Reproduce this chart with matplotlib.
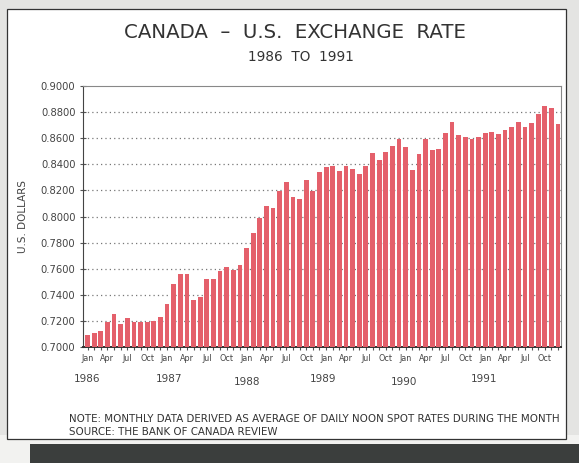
import matplotlib.pyplot as plt
from matplotlib.patches import Rectangle
import numpy as np

# monthly average CAD -> USD, Jan 1986 .. Dec 1991
rate_1986 = [0.7095, 0.7110, 0.7123, 0.7190, 0.7256, 0.7180, 0.7225, 0.7190, 0.7190, 0.7190, 0.7200, 0.7230]
rate_1987 = [0.7333, 0.7480, 0.7563, 0.7563, 0.7363, 0.7380, 0.7520, 0.7520, 0.7586, 0.7614, 0.7588, 0.7627]
rate_1988 = [0.7760, 0.7870, 0.7990, 0.8079, 0.8066, 0.8194, 0.8263, 0.8151, 0.8136, 0.8279, 0.8194, 0.8343]
rate_1989 = [0.8381, 0.8386, 0.8348, 0.8389, 0.8363, 0.8325, 0.8389, 0.8483, 0.8432, 0.8497, 0.8537, 0.8597]
rate_1990 = [0.8533, 0.8357, 0.8478, 0.8595, 0.8513, 0.8520, 0.8638, 0.8728, 0.8625, 0.8613, 0.8595, 0.8608]
rate_1991 = [0.8638, 0.8650, 0.8633, 0.8663, 0.8683, 0.8728, 0.8688, 0.8720, 0.8783, 0.8845, 0.8828, 0.8708]
years = ['1986', '1987', '1988', '1989', '1990', '1991']
month_labels = ['Jan', 'Apr', 'Jul', 'Oct']

rates = np.array(rate_1986 + rate_1987 + rate_1988 + rate_1989 + rate_1990 + rate_1991)
idx = np.arange(len(rates))

fig = plt.figure(figsize=(5.79, 4.63), dpi=100, facecolor='#e4e4e2')

# paper card and dark strip under it (behind the axes)
fig.patches.append(Rectangle((0.0, 0.0), 1.0, 0.06, transform=fig.transFigure,
                             facecolor='#f2f2f0', edgecolor='none', zorder=-3))
fig.patches.append(Rectangle((0.052, 0.0), 0.948, 0.04, transform=fig.transFigure,
                             facecolor='#3b3e3d', edgecolor='none', zorder=-2))
fig.patches.append(Rectangle((0.012, 0.052), 0.965, 0.928, transform=fig.transFigure,
                             facecolor='white', edgecolor='#333333', lw=0.9, zorder=-1))

ax = fig.add_axes([0.1434, 0.2505, 0.8256, 0.5637])
ax.set_facecolor('white')
ax.bar(idx, rates - 0.7, bottom=0.7, width=0.72, color='#e4606b', zorder=3)

ax.set_ylim(0.7, 0.9)
ax.set_xlim(-0.68, 71.45)
yt = np.arange(0.70, 0.9001, 0.02)
ax.set_yticks(yt)
ax.set_yticklabels(['%.4f' % v for v in yt], fontsize=7.2, color='#444444')
for v in yt[1:-1]:
    ax.axhline(v, color='#777777', lw=0.9, ls=(0, (1, 2.5)), zorder=1)

ax.set_xticks(idx, minor=True)
ax.set_xticks(idx[::3])
ax.set_xticklabels(month_labels * len(years), fontsize=5.8, color='#444444')
ax.tick_params(axis='x', which='both', direction='inout', length=4, width=0.8, pad=3, color='#555555')
ax.tick_params(axis='y', direction='inout', length=5, width=0.8, pad=3, color='#555555')

for s in ['top', 'right']:
    ax.spines[s].set_color('#888888')
    ax.spines[s].set_linewidth(0.8)
ax.spines['left'].set_color('#444444')
ax.spines['bottom'].set_color('#333333')
ax.spines['bottom'].set_linewidth(1.4)

year_x = [0.0, 12.3, 24.0, 35.5, 47.8, 59.8]
for k, y in enumerate(years):
    ax.text(year_x[k], 0.7 - 0.021 - (0.002 if k in (2, 4) else 0), y,
            fontsize=7.5, color='#444444', ha='center', va='top')

ax.set_ylabel('U.S. DOLLARS', fontsize=7.5, color='#444444', labelpad=9)

fig.text(0.51, 0.93, 'CANADA  \u2013  U.S.  EXCHANGE  RATE', ha='center', va='center',
         fontsize=14.2, color='#333333')
fig.text(0.52, 0.877, '1986  TO  1991', ha='center', va='center',
         fontsize=9.8, color='#333333')
fig.text(0.12, 0.094, 'NOTE: MONTHLY DATA DERIVED AS AVERAGE OF DAILY NOON SPOT RATES DURING THE MONTH',
         fontsize=7.4, color='#333333', va='center')
fig.text(0.12, 0.066, 'SOURCE: THE BANK OF CANADA REVIEW',
         fontsize=7.4, color='#333333', va='center')

fig.savefig('out.png', dpi=100, facecolor=fig.get_facecolor())
